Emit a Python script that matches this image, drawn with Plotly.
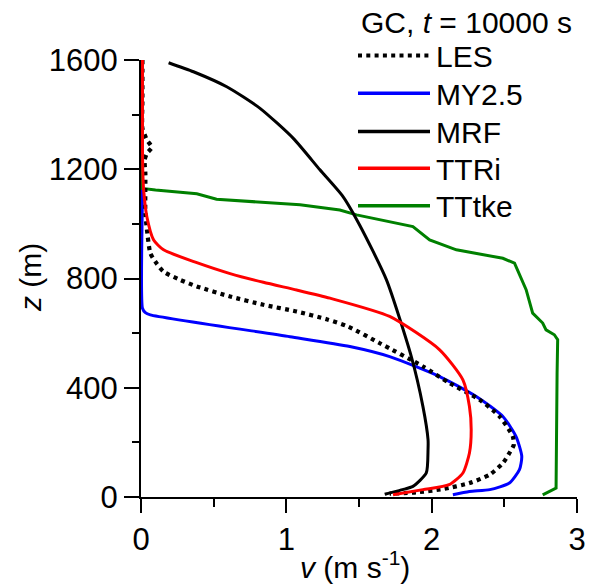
import plotly.graph_objects as go

# ---------------- data ----------------
les_v = [0.01, 0.01, 0.01, 0.041, 0.075, 0.041, 0.025, 0.03, 0.03, 0.03, 0.041, 0.064, 0.098, 0.155,
         0.27, 0.384, 0.613, 0.842, 1.071, 1.277, 1.425, 1.643, 1.94, 2.123, 2.33, 2.467, 2.558, 2.565,
         2.535, 2.49, 2.40, 2.26, 2.077, 1.895, 1.711]
les_z = [1600, 1450, 1350, 1307, 1280, 1259, 1234, 1185, 1136, 1039, 978, 893, 862, 825,
         795, 771, 734, 704, 679, 651, 624, 563, 478, 417, 356, 295, 222, 191,
         161, 124, 82, 51, 29, 17, 12]

my_v = [0.01, 0.01, 0.01, 0.03, 0.064, 1.025, 1.437, 1.711, 2.055, 2.307, 2.49, 2.58, 2.62, 2.604,
        2.535, 2.40, 2.26, 2.146]
my_z = [1600, 1125, 691, 675, 667, 587, 551, 514, 441, 368, 295, 222, 149, 100,
        51, 27, 20, 8]

mrf_v = [0.19, 0.361, 0.59, 0.819, 1.048, 1.231, 1.39, 1.505, 1.689, 1.86, 1.94, 1.975, 1.975,
         1.963, 1.871, 1.80, 1.69, 1.677]
mrf_z = [1590, 1557, 1502, 1423, 1313, 1198, 1100, 995, 795, 514, 331, 210, 173,
         88, 39, 27, 12, 10]

ttri_v = [0.01, 0.01, 0.012, 0.018, 0.04, 0.087, 0.155, 0.384, 0.613, 0.842, 1.071, 1.3, 1.711, 2.055,
          2.215, 2.26, 2.272, 2.26, 2.215, 2.12, 1.94, 1.734]
ttri_z = [1600, 1300, 1200, 1125, 1027, 941, 905, 858, 818, 786, 758, 728, 661, 539,
          429, 331, 246, 161, 88, 45, 27, 8]

tttke_v = [0.01, 0.01, 0.1, 0.384, 0.52, 1.094, 1.368, 1.483, 1.871, 1.986, 2.17, 2.49, 2.57, 2.65,
           2.695, 2.764, 2.787, 2.844, 2.867, 2.863, 2.856, 2.764]
tttke_z = [1600, 1130, 1124, 1110, 1090, 1070, 1051, 1033, 990, 941, 905, 874, 856, 759,
           673, 637, 612, 594, 576, 454, 33, 8]

legend_names = ["LES", "MY2.5", "MRF", "TTRi", "TTtke"]
legend_colors = ["black", "#0000ff", "black", "#ff0000", "#008000"]

x_ticks = [0, 1, 2, 3]
x_minor = [0.5, 1.5, 2.5]
y_ticks = [0, 400, 800, 1200, 1600]
y_minor = [200, 600, 1000, 1400]

FONT = "Arial, Liberation Sans, sans-serif"
OFF = 8  # page body margin of the html page
W, H = 594 - OFF, 584 - OFF
L, T = 141 - OFF, 60 - OFF
R = W - (577 - OFF)
B = H - (497 - OFF)
PW, PH = W - L - R, H - T - B


def px(xp):
    return (xp - OFF - L) / PW


def py(yp):
    return (H - B - (yp - OFF)) / PH


DOT = dict(color="black", width=4.2, dash="4px,4.3px")

fig = go.Figure()
fig.add_trace(go.Scatter(x=my_v, y=my_z, mode="lines", line=dict(color="#0000ff", width=3, shape="spline", smoothing=0.6)))
fig.add_trace(go.Scatter(x=tttke_v, y=tttke_z, mode="lines", line=dict(color="#008000", width=3)))
fig.add_trace(go.Scatter(x=mrf_v, y=mrf_z, mode="lines", line=dict(color="black", width=3, shape="spline", smoothing=0.6)))
fig.add_trace(go.Scatter(x=les_v, y=les_z, mode="lines", line=dict(shape="spline", smoothing=0.6, **DOT)))
fig.add_trace(go.Scatter(x=ttri_v, y=ttri_z, mode="lines", line=dict(color="#ff0000", width=3, shape="spline", smoothing=0.6)))

axis_common = dict(showline=True, linecolor="black", linewidth=2, ticks="outside", tickcolor="black",
                   tickwidth=2, showgrid=False, zeroline=False, automargin=False,
                   tickfont=dict(family=FONT, size=31, color="black"))
fig.update_xaxes(range=[0, 3], tickvals=x_ticks, ticklen=14,
                 minor=dict(tickvals=x_minor, ticks="outside", ticklen=8, tickwidth=2, tickcolor="black", showgrid=False),
                 **axis_common)
fig.update_yaxes(range=[0, 1600], tickvals=y_ticks, ticklen=15,
                 minor=dict(tickvals=y_minor, ticks="outside", ticklen=7, tickwidth=2, tickcolor="black", showgrid=False),
                 **axis_common)

TXT = dict(family=FONT, size=30, color="black")
annotations = [
    dict(text="<i>v</i> (m s<sup>-1</sup>)", x=px(355), y=py(565), xref="paper", yref="paper",
         xanchor="center", yanchor="middle", showarrow=False, font=TXT, borderpad=0),
    dict(text="<i>z</i> (m)", x=px(30), y=py(278), xref="paper", yref="paper", textangle=-90,
         xanchor="center", yanchor="middle", showarrow=False, font=TXT, borderpad=0),
    dict(text="GC, <i>t</i> = 10000 s", x=px(573), y=py(23), xref="paper", yref="paper",
         xanchor="right", yanchor="middle", showarrow=False, font=TXT, borderpad=0),
]
shapes = []
line_y = [55.5, 93.3, 131.5, 168.3, 205.7]
for i, (name, col) in enumerate(zip(legend_names, legend_colors)):
    yy = line_y[i]
    ln = DOT if name == "LES" else dict(color=col, width=3.5)
    shapes.append(dict(type="line", xref="paper", yref="paper", x0=px(358), x1=px(430), y0=py(yy), y1=py(yy), line=ln))
    annotations.append(dict(text=name, x=px(435), y=py(yy + 1), xref="paper", yref="paper",
                            xanchor="left", yanchor="middle", showarrow=False, font=TXT, borderpad=0))

fig.update_layout(width=W, height=H, margin=dict(l=L, r=R, t=T, b=B, autoexpand=False), paper_bgcolor="white",
                  plot_bgcolor="white", showlegend=False, annotations=annotations, shapes=shapes)

fig.write_html("out.html")
